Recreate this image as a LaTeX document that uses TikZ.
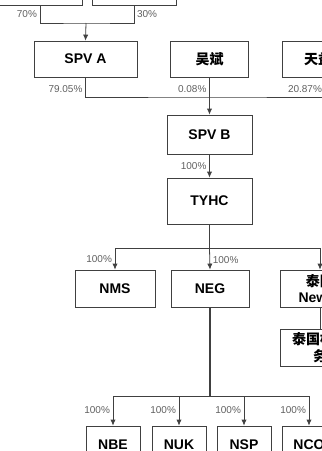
\documentclass[tikz,border=0pt]{standalone}
\usepackage{fontspec}
\setmainfont{Liberation Sans}
\newfontfamily\cjk{Noto Sans CJK SC}
\usetikzlibrary{arrows.meta}
\definecolor{lineGrey}{HTML}{404040}
\definecolor{textGrey}{HTML}{606060}

\tikzset{
  box/.style = {draw=lineGrey, line width=0.6pt, minimum width=58.5pt,
    minimum height=27pt, align=center, inner sep=1pt,
    font=\fontsize{10.5}{12.5}\selectfont\bfseries},
  pct/.style = {text=textGrey, inner sep=2pt, font=\fontsize{7.5}{9}\selectfont},
  link/.style = {draw=lineGrey, line width=0.6pt},
  arr/.style = {link, -{Latex[length=4.5pt,width=4pt]}}
}

\begin{document}
\begin{tikzpicture}[x=0.75pt, y=-0.75pt]
  \useasboundingbox (0,0) rectangle (322,451);
  \clip (0,0) rectangle (322,451);

  % top level (cut off)
  \node [box, minimum width=63pt] (top1) at (40,-13) {};
  \node [box, minimum width=63pt] (top2) at (134,-13) {};

  % level 1
  \node [box, minimum width=77.25pt] (spvA) at (85.5,59) {SPV A};
  \node [box] (wuBin) at (209.5,59) {\cjk 吴斌};
  \node [box, minimum width=64.5pt] (tianYi) at (325,59) {\cjk 天益\hphantom{天}};

  % holding chain
  \node [box, minimum width=63.75pt, minimum height=29.25pt] (spvB) at (209.5,134.5) {SPV B};
  \node [box, minimum width=63.75pt, minimum height=34.5pt] (tyhc) at (209.5,201) {TYHC};

  % subsidiaries
  \node [box, minimum width=60pt, minimum height=27.75pt] (nms) at (115,288.5) {NMS};
  \node [box, minimum height=27.75pt] (neg) at (210,288.5) {NEG};
  \node [box, minimum width=60pt, minimum height=27.75pt] (thNew) at (320,288.5) {{\cjk 泰国}\\New\hphantom{ N}};
  \node [box, minimum width=60pt, minimum height=27.75pt] (thStd) at (320,347.5) {{\cjk 泰国标\hphantom{准}}\\{\cjk 务}};

  % NEG subsidiaries
  \node [box, minimum width=40.5pt, minimum height=27.75pt] (nbe) at (113,444.5) {NBE};
  \node [box, minimum width=40.5pt, minimum height=27.75pt] (nuk) at (179,444.5) {NUK};
  \node [box, minimum width=40.5pt, minimum height=27.75pt] (nsp) at (244,444.5) {NSP};
  \node [box, minimum width=40.5pt, minimum height=27.75pt] (nco) at (309,444.5) {NCO};

  % junctions
  \coordinate (joinA) at (86,23);
  \coordinate (joinB) at (209.5,97);
  \coordinate (joinC) at (209.5,248);
  \coordinate (joinD) at (210,396);

  % connectors
  \draw [link] (top1.south) |- node [pct, pos=0.25, left] {70\%} (joinA)
    -| node [pct, pos=0.75, right] {30\%} (top2.south);
  \draw [arr] (joinA) -- (spvA.north);

  \draw [link] (spvA.south) |- node [pct, pos=0.3, left] {79.05\%} (joinB)
    -| node [pct, pos=0.7, left] {20.87\%} (tianYi.south);
  \draw [arr] (wuBin.south) -- node [pct, pos=0.32, left] {0.08\%} (spvB.north);
  \draw [arr] (spvB.south) -- node [pct, pos=0.5, left] {100\%} (tyhc.north);

  \draw [link] (tyhc.south) -- (joinC);
  \draw [arr] (joinC) -| node [pct, pos=0.75, left] {100\%} (nms.north);
  \draw [arr] (joinC) -- node [pct, pos=0.55, right] {100\%} (neg.north);
  \draw [arr] (joinC) -| (thNew.north);
  \draw [link] (thNew.south) -- (thStd.north);

  \draw [link, line width=1.5pt] (neg.south) -- (joinD);
  \foreach \sub in {nbe, nuk, nsp, nco}
    \draw [arr] (joinD) -| node [pct, pos=0.73, left] {100\%} (\sub.north);
\end{tikzpicture}
\end{document}
